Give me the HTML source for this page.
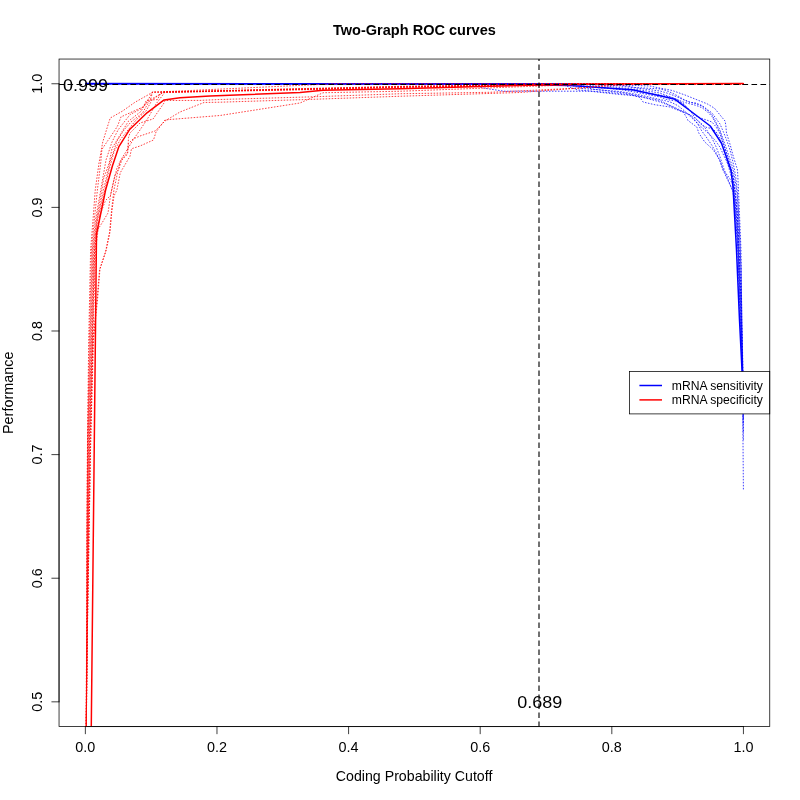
<!DOCTYPE html>
<html><head><meta charset="utf-8"><title>Two-Graph ROC curves</title>
<style>html,body{margin:0;padding:0;background:#fff;}svg{display:block;will-change:transform;}text{font-family:"Liberation Sans",sans-serif;fill:#000;}</style></head><body>
<svg width="800" height="800" viewBox="0 0 800 800">
<rect width="800" height="800" fill="#fff"/>
<defs><clipPath id="pc"><rect x="59.04" y="59.04" width="710.72" height="667.52"/></clipPath></defs>
<g stroke="#000" stroke-width="0.75" fill="none" stroke-linecap="round"><path d="M85.36,726.56 L743.43,726.56" /><path d="M85.36,726.56 L85.36,733.76" /><path d="M216.97,726.56 L216.97,733.76" /><path d="M348.59,726.56 L348.59,733.76" /><path d="M480.20,726.56 L480.20,733.76" /><path d="M611.82,726.56 L611.82,733.76" /><path d="M743.43,726.56 L743.43,733.76" /><path d="M59.04,701.84 L59.04,83.76" /><path d="M59.04,701.84 L51.84,701.84" /><path d="M59.04,578.22 L51.84,578.22" /><path d="M59.04,454.61 L51.84,454.61" /><path d="M59.04,330.99 L51.84,330.99" /><path d="M59.04,207.38 L51.84,207.38" /><path d="M59.04,83.76 L51.84,83.76" /></g>
<text x="85.36" y="752.2" font-size="14.4" text-anchor="middle">0.0</text>
<text x="216.97" y="752.2" font-size="14.4" text-anchor="middle">0.2</text>
<text x="348.59" y="752.2" font-size="14.4" text-anchor="middle">0.4</text>
<text x="480.20" y="752.2" font-size="14.4" text-anchor="middle">0.6</text>
<text x="611.82" y="752.2" font-size="14.4" text-anchor="middle">0.8</text>
<text x="743.43" y="752.2" font-size="14.4" text-anchor="middle">1.0</text>
<text transform="translate(42.2,701.84) rotate(-90)" font-size="14.4" text-anchor="middle">0.5</text>
<text transform="translate(42.2,578.22) rotate(-90)" font-size="14.4" text-anchor="middle">0.6</text>
<text transform="translate(42.2,454.61) rotate(-90)" font-size="14.4" text-anchor="middle">0.7</text>
<text transform="translate(42.2,330.99) rotate(-90)" font-size="14.4" text-anchor="middle">0.8</text>
<text transform="translate(42.2,207.38) rotate(-90)" font-size="14.4" text-anchor="middle">0.9</text>
<text transform="translate(42.2,83.76) rotate(-90)" font-size="14.4" text-anchor="middle">1.0</text>
<text transform="translate(414.4,34.6) scale(1.01,1)" font-size="14.4" font-weight="bold" text-anchor="middle">Two-Graph ROC curves</text>
<text transform="translate(414.1,780.7) scale(0.985,1)" font-size="14.4" text-anchor="middle">Coding Probability Cutoff</text>
<text transform="translate(13,392.8) rotate(-90)" font-size="14.4" text-anchor="middle">Performance</text>
<g clip-path="url(#pc)" fill="none">
<g stroke="#00f" stroke-width="0.75" stroke-dasharray="0.75 2.25" stroke-linecap="round">
<path d="M743.40,395.00 L743.00,370.00 L741.80,320.00 L741.00,250.00 L738.50,190.00 L737.50,170.00 L733.25,156.25 L730.25,145.00 L726.50,133.00 L725.75,124.75 L725.00,121.00 L714.50,108.25 L707.50,104.00 L685.00,95.00 L672.25,90.50 L655.00,87.10 L650.00,86.00 L630.00,85.30 L600.00,83.76 L85.40,83.76"/>
<path d="M743.40,391.30 L742.30,348.64 L741.00,268.51 L739.50,229.72 L737.50,192.48 L735.50,175.22 L733.00,162.24 L730.00,150.00 L727.00,141.00 L723.50,132.17 L720.00,124.00 L716.00,118.50 L712.00,113.00 L707.00,109.25 L702.00,105.50 L696.00,103.06 L690.00,102.47 L684.00,99.67 L678.00,96.01 L672.00,92.99 L666.00,90.54 L660.00,88.90 L635.00,87.50 L625.00,85.50 L590.00,83.76 L85.40,83.76"/>
<path d="M743.40,398.90 L742.30,347.86 L741.00,268.52 L739.50,232.99 L737.50,198.06 L735.50,182.11 L733.00,168.79 L730.00,159.17 L727.00,150.20 L723.50,140.28 L720.00,130.17 L716.00,122.22 L712.00,114.96 L707.00,109.93 L702.00,106.13 L696.00,103.69 L690.00,102.08 L684.00,99.97 L678.00,97.25 L672.00,94.88 L666.00,92.74 L660.00,91.00 L640.00,88.50 L620.00,86.00 L590.00,83.76 L85.40,83.76"/>
<path d="M743.40,403.70 L742.30,355.30 L741.00,293.77 L739.50,255.31 L737.50,212.39 L735.50,191.95 L733.00,174.18 L730.00,163.90 L727.00,154.04 L723.50,143.13 L720.00,132.25 L716.00,123.81 L712.00,116.47 L707.00,111.45 L702.00,107.73 L696.00,105.35 L690.00,103.88 L684.00,102.28 L678.00,99.95 L672.00,97.63 L666.00,95.28 L660.00,93.00 L640.00,90.00 L610.00,86.50 L585.00,83.76 L85.40,83.76"/>
<path d="M743.40,410.20 L742.30,358.04 L741.00,304.07 L739.50,265.36 L737.50,219.49 L735.50,197.12 L733.00,177.07 L730.00,166.27 L727.00,155.70 L723.50,144.27 L720.00,133.73 L716.00,126.79 L712.00,122.05 L707.00,120.17 L702.00,118.55 L696.00,115.83 L690.00,110.95 L684.00,104.79 L678.00,99.88 L672.00,97.42 L666.00,96.26 L660.00,95.00 L633.00,90.50 L600.00,87.00 L580.00,83.76 L85.40,83.76"/>
<path d="M743.40,417.80 L742.30,360.73 L741.00,315.46 L739.50,277.86 L737.50,229.67 L735.50,205.58 L733.00,182.66 L730.00,172.05 L727.00,161.02 L723.50,148.86 L720.00,138.06 L716.00,131.71 L712.00,128.50 L707.00,127.62 L702.00,125.20 L696.00,119.02 L690.00,110.48 L684.00,104.05 L678.00,101.20 L672.00,100.39 L666.00,99.24 L660.00,97.00 L640.00,93.00 L620.00,89.50 L590.00,87.00 L572.00,83.76 L85.40,83.76"/>
<path d="M743.40,422.50 L742.30,358.47 L741.00,303.81 L739.50,263.85 L737.50,218.09 L735.50,196.55 L733.00,177.77 L730.00,169.38 L727.00,162.16 L723.50,154.84 L720.00,147.30 L716.00,141.42 L712.00,136.70 L707.00,132.17 L702.00,127.55 L696.00,122.08 L690.00,116.17 L684.00,110.52 L678.00,105.77 L672.00,102.66 L666.00,100.90 L660.00,99.50 L640.00,95.00 L620.00,91.50 L582.00,88.50 L566.00,83.76 L85.40,83.76"/>
<path d="M743.40,431.10 L742.30,367.00 L741.00,336.42 L739.50,296.79 L737.50,243.16 L735.50,216.84 L733.00,191.33 L730.00,184.25 L727.00,176.91 L723.50,167.68 L720.00,156.81 L716.00,146.59 L712.00,138.29 L707.00,130.41 L702.00,124.16 L696.00,118.84 L690.00,114.75 L684.00,111.99 L678.00,109.00 L672.00,106.29 L666.00,104.17 L660.00,102.00 L640.00,96.50 L620.00,93.50 L578.00,90.00 L560.00,83.76 L85.40,83.76"/>
<path d="M743.40,439.40 L742.30,365.83 L741.00,328.31 L739.50,285.39 L737.50,232.38 L735.50,207.35 L733.00,185.18 L730.00,179.04 L727.00,174.74 L723.50,170.67 L720.00,161.33 L716.00,152.50 L712.00,145.50 L707.00,138.10 L702.00,131.28 L696.00,121.15 L690.00,115.01 L684.00,112.38 L678.00,109.86 L672.00,106.65 L666.00,103.43 L660.00,100.50 L645.00,97.50 L625.00,93.00 L592.00,89.00 L575.00,83.76 L85.40,83.76"/>
<path d="M743.40,489.00 L742.40,370.00 L740.20,320.00 L738.00,250.00 L733.70,193.00 L731.00,187.00 L723.00,170.00 L719.75,160.00 L713.00,149.50 L704.75,142.00 L698.75,133.00 L697.00,127.25 L688.00,120.50 L686.50,117.50 L683.50,112.25 L670.00,107.00 L655.00,104.75 L643.00,102.00 L640.00,97.50 L633.00,95.50 L620.00,94.50 L590.00,91.20 L504.00,91.20 L483.00,88.00 L470.00,83.76 L85.40,83.76"/>
</g>
<path d="M85.40,83.60 L480.00,83.90 L539.00,84.90 L570.00,85.60 L632.50,89.75 L660.00,95.70 L675.00,99.30 L691.50,111.75 L710.25,126.00 L721.50,143.25 L731.00,170.00 L733.00,187.00 L736.50,250.00 L739.50,320.00 L742.00,370.00 L743.40,395.00" stroke="#00f" stroke-width="1.5" stroke-linejoin="round"/>
<g stroke="#f00" stroke-width="0.75" stroke-dasharray="0.75 2.25" stroke-linecap="round">
<path d="M743.40,83.76 L335.00,83.76 L156.00,92.10 L153.00,92.10 L135.00,102.25 L122.25,111.25 L110.25,118.00 L108.75,122.50 L102.75,142.00 L99.00,163.00 L95.25,190.00 L93.00,220.00 L90.60,250.00 L88.70,340.00 L87.50,440.00 L86.90,530.00 L86.60,630.00 L86.15,722.00 L85.36,1320.00"/>
<path d="M743.40,83.76 L545.00,83.76 L490.00,85.10 L400.00,86.30 L310.00,88.40 L158.00,92.10 L152.50,92.10 L148.00,100.00 L143.50,106.70 L121.00,116.90 L117.60,125.90 L114.80,130.40 L106.40,142.70 L101.90,149.50 L100.70,163.00 L97.40,190.00 L94.30,220.00 L91.50,250.00 L89.39,340.00 L87.57,440.00 L86.95,530.00 L86.72,630.00 L86.18,722.00 L85.36,1320.00"/>
<path d="M743.40,83.76 L560.00,83.76 L490.00,85.30 L400.00,86.55 L310.00,88.65 L162.00,92.10 L152.50,92.10 L151.00,98.00 L142.50,108.10 L130.00,114.60 L118.00,130.00 L112.00,142.00 L106.00,160.00 L100.75,190.00 L95.50,220.00 L92.30,250.00 L90.08,340.00 L87.79,440.00 L87.10,530.00 L86.84,630.00 L86.21,722.00 L85.36,1320.00"/>
<path d="M743.40,83.76 L575.00,83.76 L490.00,85.50 L400.00,86.80 L310.00,88.90 L166.00,92.10 L161.00,92.10 L157.50,99.60 L146.50,100.20 L141.20,111.20 L128.30,121.40 L122.10,131.50 L112.00,148.40 L109.20,163.00 L103.60,178.70 L101.90,190.00 L96.50,220.00 L93.00,250.00 L90.77,340.00 L88.15,440.00 L87.35,530.00 L86.96,630.00 L86.24,722.00 L85.36,1320.00"/>
<path d="M743.40,83.76 L590.00,83.76 L490.00,85.70 L400.00,87.05 L310.00,89.15 L170.00,92.10 L164.00,92.10 L160.50,94.00 L150.00,100.00 L142.50,113.00 L131.00,122.00 L124.00,130.00 L117.00,141.00 L110.00,162.00 L103.50,190.00 L97.00,220.00 L93.80,250.00 L91.46,340.00 L88.65,440.00 L87.69,530.00 L87.08,630.00 L86.27,722.00 L85.36,1320.00"/>
<path d="M743.40,83.76 L600.00,83.76 L490.00,85.90 L400.00,87.30 L310.00,89.40 L176.00,92.10 L163.00,92.10 L152.00,100.00 L146.00,111.00 L136.00,120.00 L128.00,130.00 L120.00,140.00 L114.00,152.00 L108.50,172.00 L104.90,190.00 L97.50,220.00 L94.60,250.00 L92.15,340.00 L89.30,440.00 L88.14,530.00 L87.20,630.00 L86.30,722.00 L85.36,1320.00"/>
<path d="M743.40,83.76 L612.00,83.76 L490.00,86.10 L400.00,87.55 L310.00,89.65 L184.00,92.10 L165.00,92.10 L156.00,104.00 L148.00,118.00 L140.00,130.00 L133.00,140.00 L127.00,150.00 L122.00,158.00 L117.00,168.00 L114.00,180.00 L110.50,195.50 L105.50,200.50 L100.00,215.00 L95.50,250.00 L92.84,340.00 L90.09,440.00 L88.68,530.00 L87.32,630.00 L86.33,722.00 L85.36,1320.00"/>
<path d="M743.40,83.76 L640.00,83.76 L580.00,88.00 L520.00,92.50 L440.00,95.00 L400.00,96.25 L310.00,99.40 L220.00,102.20 L204.00,102.50 L180.00,112.00 L165.00,121.00 L155.00,131.00 L140.00,136.00 L133.00,139.00 L128.50,143.50 L127.00,154.75 L120.25,161.50 L118.75,169.00 L115.00,175.00 L111.60,190.00 L110.50,195.50 L108.00,213.00 L102.00,223.00 L97.50,230.00 L94.50,250.00 L92.38,340.00 L89.55,440.00 L88.31,530.00 L87.24,630.00 L86.31,722.00 L85.36,1320.00"/>
<path d="M743.40,83.76 L620.00,83.76 L580.00,88.00 L539.00,90.00 L490.00,92.30 L400.00,93.75 L310.00,96.90 L220.00,99.50 L200.00,100.40 L165.00,100.50 L164.00,103.00 L153.00,119.00 L140.00,123.00 L130.00,133.00 L128.50,137.50 L127.75,152.50 L122.50,158.50 L118.00,170.50 L113.90,190.00 L111.60,210.00 L109.60,232.00 L105.50,252.00 L99.50,270.00 L97.00,300.00 L93.00,340.00 L90.70,440.00 L89.10,530.00 L87.40,630.00 L86.35,722.00 L85.36,1320.00"/>
<path d="M743.40,83.76 L600.00,83.76 L400.00,91.25 L323.00,92.75 L300.00,103.00 L220.00,115.50 L170.00,119.50 L165.00,120.00 L156.00,132.00 L153.50,140.00 L140.00,146.00 L131.50,148.75 L130.00,156.25 L120.25,172.75 L116.90,190.00 L114.00,196.00 L112.00,210.00 L110.00,232.00 L106.25,250.00 L100.00,268.75 L97.50,300.00 L93.50,340.00 L90.70,440.00 L89.10,530.00 L87.40,630.00 L86.35,722.00 L85.36,1320.00"/>
</g>
<path d="M85.00,1320.00 L96.50,234.00 L105.60,190.00 L112.40,166.00 L118.75,146.90 L129.90,129.20 L147.00,112.80 L164.10,99.90 L180.00,97.75 L210.00,96.00 L300.00,92.50 L323.00,90.20 L400.00,88.80 L490.00,86.25 L539.00,85.00 L600.00,83.90 L743.40,83.60" stroke="#f00" stroke-width="1.5" stroke-linejoin="round"/>
<path d="M539.00,726.56 L539.00,59.04" stroke="#000" stroke-width="1.125" stroke-dasharray="5.6 3.4" stroke-dashoffset="0.55"/>
<path d="M59.04,84.50 L769.76,84.50" stroke="#000" stroke-width="1.125" stroke-dasharray="5.6 3.4" stroke-dashoffset="0.55"/>
</g>
<text transform="translate(85.5,90.85) scale(1,0.93)" font-size="18" text-anchor="middle">0.999</text>
<text transform="translate(539.65,707.9) scale(1,0.93)" font-size="18" text-anchor="middle">0.689</text>
<rect x="629.4" y="371.5" width="140.36" height="42.4" fill="#fff" stroke="#000" stroke-width="0.75"/>
<path d="M639.4,385.5 L662,385.5" stroke="#00f" stroke-width="1.5"/>
<path d="M639.4,399.9 L662,399.9" stroke="#f00" stroke-width="1.5"/>
<text x="671.8" y="389.7" font-size="12.15">mRNA sensitivity</text>
<text x="671.8" y="404.4" font-size="12.15">mRNA specificity</text>
<rect x="59.04" y="59.04" width="710.72" height="667.52" fill="none" stroke="#000" stroke-width="0.75"/>
</svg></body></html>
